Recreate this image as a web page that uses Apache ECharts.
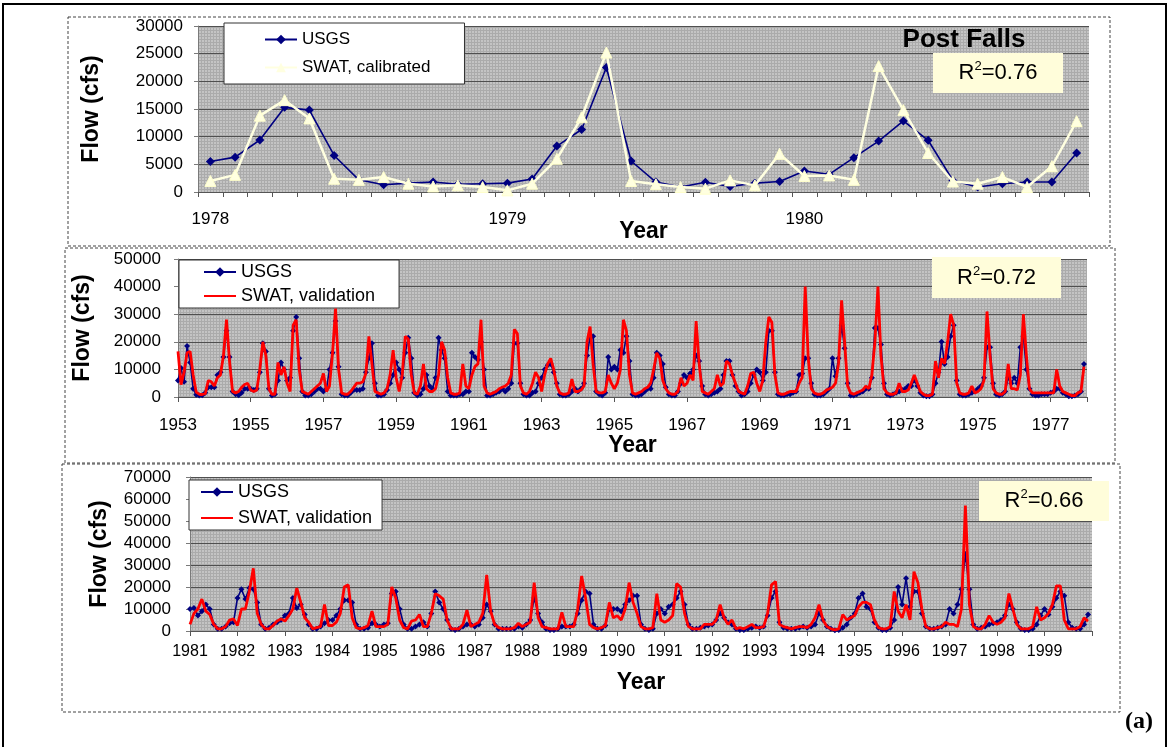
<!DOCTYPE html>
<html><head><meta charset="utf-8">
<script src="https://cdn.jsdelivr.net/npm/echarts@6/dist/echarts.min.js"></script>
<style>html,body{margin:0;padding:0;background:#fff}#c{width:1170px;height:747px}</style>
</head><body><div id="c"></div>
<script>
// ---------- DATA ----------
const topYears = [1978, 1979, 1980];
const monthNames = ['01','02','03','04','05','06','07','08','09','10','11','12'];
const topUSGS = [5500, 6300, 9400, 15300, 14800, 6600, 2200, 1300, 1600, 1800, 1400, 1500,
  1600, 2350, 8300, 11300, 22500, 5600, 1800, 900, 1750, 1000, 1600, 1900,
  3800, 3200, 6200, 9200, 12850, 9350, 2100, 900, 1500, 1800, 1800, 7050];
const topSWAT = [2000, 3100, 13800, 16600, 13300, 2400, 2200, 2700, 1500, 1000, 1200, 900,
  300, 1500, 6000, 13500, 25200, 2000, 1400, 900, 600, 2100, 1200, 6900,
  2900, 3000, 2200, 22750, 14800, 7050, 1900, 1500, 2700, 900, 4650, 12800];

const midStartYear = 1953;
const midUSGS = [
  6000, 10500, 5500, 18500, 12500, 3000, 800, 500, 600, 1500, 3500, 3500,
  3500, 8000, 9000, 14500, 24000, 14500, 2000, 1000, 600, 1500, 3000, 3000,
  3000, 2500, 3000, 9000, 19500, 16500, 3000, 500, 1000, 6000, 12500, 10000,
  6000, 7000, 24000, 29000, 14000, 2000, 500, 500, 1000, 2000, 3000, 3000,
  2000, 3000, 10000, 16000, 27500, 11000, 1000, 500, 500, 1500, 2500, 2500,
  2500, 3000, 9000, 14000, 19500, 5000, 500, 500, 1000, 2500, 5000, 8000,
  12500, 10000, 7000, 16000, 21500, 14000, 1500, 500, 1000, 3000, 8000, 4000,
  3000, 7000, 21500, 17000, 14000, 2000, 500, 500, 500, 1000, 1000, 2000,
  2000, 16000, 14500, 13500, 20000, 10000, 500, 500, 1000, 1500, 2000, 3000,
  2000, 3000, 5000, 19500, 19500, 5000, 1000, 500, 500, 1500, 2000, 5000,
  7000, 10000, 11500, 12000, 9000, 5000, 1000, 500, 500, 1000, 2000, 3000,
  2000, 3000, 5000, 15000, 22000, 22000, 2000, 1000, 500, 1500, 14500, 10000,
  11000, 10000, 17000, 16000, 22000, 13000, 1000, 500, 500, 1000, 2000, 3000,
  3000, 7000, 16000, 15000, 12000, 3500, 1000, 500, 500, 2000, 5000, 8000,
  7000, 8500, 10000, 15000, 13000, 4000, 1000, 500, 1000, 1500, 2000, 3000,
  8000, 13000, 13000, 8000, 4000, 2000, 500, 1000, 2000, 5000, 8000, 10000,
  9000, 6000, 9000, 24000, 24000, 9000, 1000, 500, 500, 1000, 1000, 1500,
  2000, 8000, 8500, 14000, 14000, 5000, 1000, 500, 500, 1000, 2000, 3000,
  14000, 7500, 14000, 26000, 17700, 5000, 500, 500, 1000, 1500, 2000, 3000,
  3000, 7000, 25000, 25000, 19000, 5000, 1000, 500, 1000, 1500, 2000, 2500,
  3000, 4000, 4000, 6000, 4000, 1500, 500, 300, 300, 1000, 5000, 9000,
  20000, 12000, 14500, 22000, 26000, 6000, 1000, 500, 500, 1000, 1500, 2000,
  3000, 4000, 7000, 18000, 18000, 5000, 1000, 500, 1000, 2000, 7000, 5000,
  7000, 5000, 18000, 22000, 10000, 3000, 1000, 500, 500, 1000, 1000, 1000,
  1500, 2000, 3000, 3000, 1500, 1000, 300, 300, 500, 1000, 2000, 12000];
const midSWAT = [
  16500, 4500, 9000, 16000, 16500, 8000, 1800, 1000, 900, 1200, 6000, 5500,
  4000, 7000, 8000, 15000, 28000, 13000, 2000, 1500, 2000, 3500, 4500, 5000,
  2500, 2000, 2500, 10000, 20000, 15000, 3000, 1000, 1000, 12500, 8000, 11000,
  5000, 2000, 26000, 28000, 10000, 2000, 1500, 1000, 2000, 3000, 4000, 5000,
  8500, 2000, 4000, 16000, 32000, 10000, 1500, 1000, 1000, 2000, 3500, 5000,
  5000, 5500, 8500, 22000, 12000, 2000, 1500, 1000, 1500, 3000, 8000, 17000,
  7000, 2000, 8000, 22000, 21000, 8000, 1500, 1000, 4000, 12000, 3000, 2000,
  2000, 3000, 8000, 20000, 17000, 7000, 1500, 1000, 1000, 1500, 12000, 4000,
  3000, 8000, 11000, 12000, 28000, 4000, 1500, 1000, 1500, 2000, 3000, 3500,
  4000, 5000, 8000, 24500, 23000, 4000, 1500, 1000, 2000, 5000, 9000, 7000,
  2000, 8000, 12000, 14000, 10000, 4000, 1500, 1000, 1000, 1500, 6500, 2000,
  2000, 2500, 4000, 20000, 25500, 12000, 2000, 1500, 1500, 2000, 8000, 5000,
  3000, 5000, 10000, 28000, 24000, 8000, 1500, 1000, 1500, 2000, 3000, 3500,
  5000, 10000, 16000, 14000, 6000, 3000, 1500, 1000, 1000, 2000, 7000, 4000,
  5000, 8000, 6000, 27500, 12000, 2000, 1500, 1000, 2000, 3000, 8000, 4000,
  5000, 13000, 12000, 8000, 5000, 2000, 1500, 1000, 4000, 8500, 9000, 5000,
  2000, 6000, 20000, 29000, 27000, 8000, 1500, 1000, 1000, 1500, 2000, 2000,
  2000, 5000, 7000, 40000, 14000, 3000, 1500, 1000, 1000, 1500, 2500, 3000,
  3500, 5000, 12000, 35000, 20000, 4000, 1500, 1000, 1500, 2000, 2500, 4000,
  3000, 8000, 20000, 40000, 15000, 3000, 1500, 1000, 1000, 1500, 5000, 2000,
  2000, 2500, 5000, 8000, 5000, 2000, 1000, 500, 500, 1000, 13000, 7000,
  14000, 12000, 20000, 30000, 26000, 5000, 1500, 1000, 1000, 1500, 4000, 1500,
  2000, 3000, 6000, 31000, 15000, 3000, 1500, 1000, 1000, 2000, 12000, 3000,
  3000, 2500, 8000, 30000, 15000, 3000, 1500, 1500, 1500, 1500, 1500, 1500,
  1500, 1500, 10000, 4000, 2000, 1500, 1000, 500, 500, 1500, 2000, 11000];

const botStartYear = 1981;
const botUSGS = [
  10000, 10500, 7000, 9000, 12000, 10000, 3000, 1000, 1000, 2000, 3500, 4000,
  15000, 19000, 14500, 19500, 19000, 13000, 3000, 1000, 1500, 3000, 4000, 5000,
  7000, 8000, 15000, 10500, 12000, 7500, 3000, 1000, 1000, 2000, 3500, 5000,
  5000, 7000, 10000, 14000, 14000, 13000, 3000, 1000, 1000, 1500, 3500, 3000,
  2000, 3000, 3500, 17000, 18000, 10000, 3000, 1000, 1000, 2000, 3000, 4000,
  2000, 8000, 18000, 13000, 10000, 5000, 1000, 500, 1000, 2000, 3000, 3000,
  2000, 3000, 6000, 12000, 9000, 3000, 1000, 1000, 1000, 1000, 1000, 2000,
  1500, 3000, 5000, 15000, 8000, 4000, 1000, 500, 500, 1000, 2000, 2000,
  2000, 3000, 8000, 14000, 18000, 17000, 3000, 1000, 1000, 2500, 10000, 10000,
  10000, 9000, 12000, 14000, 16000, 16000, 3000, 1000, 500, 1000, 8000, 10000,
  8000, 11000, 12000, 15000, 18000, 12000, 3000, 1000, 1000, 1500, 2000, 2500,
  3000, 5000, 8000, 6000, 4000, 3000, 1000, 500, 500, 1000, 1500, 2000,
  1500, 2000, 7000, 15000, 18000, 4000, 1500, 1000, 1000, 1000, 1500, 2000,
  1500, 2000, 3000, 8000, 5000, 2000, 1000, 300, 500, 1500, 3000, 6000,
  8000, 15000, 17000, 11000, 10000, 4000, 1500, 500, 500, 1500, 5000, 20000,
  12000, 24000, 11000, 18000, 18000, 8000, 2000, 1000, 1000, 1500, 2000, 3000,
  10000, 8000, 12000, 19000, 35000, 19000, 3000, 1000, 1500, 2000, 3000, 3500,
  4000, 5000, 7000, 12000, 10000, 4000, 1000, 500, 500, 1000, 3000, 7000,
  10000, 7500, 11000, 15000, 18000, 16000, 4000, 1500, 1000, 1000, 3000, 7500];
const botSWAT = [
  3000, 8000, 10000, 14500, 9000, 7500, 3000, 1000, 1000, 2000, 5000, 5500,
  2500, 10000, 10000, 18000, 28500, 8000, 3000, 1000, 1000, 2500, 4500, 5500,
  4500, 7000, 10000, 19500, 13000, 6000, 4000, 1000, 1500, 2000, 12000, 2500,
  2500, 4000, 8000, 20000, 21000, 6000, 1500, 1000, 1500, 2500, 9000, 2000,
  2000, 2000, 3000, 20000, 15000, 5000, 1500, 1000, 4500, 5000, 7500, 2000,
  2000, 8000, 17000, 16000, 14500, 5000, 1000, 1000, 1000, 3000, 9500, 2000,
  3000, 4000, 8000, 25500, 9000, 3000, 1500, 1000, 1000, 1000, 1500, 3500,
  2000, 3000, 4000, 22000, 6000, 2000, 1500, 1000, 1000, 1000, 8500, 2000,
  2000, 2000, 10000, 25000, 15000, 3000, 1500, 1000, 1500, 2500, 13000, 6000,
  7000, 5000, 10000, 22000, 13000, 8000, 2000, 1000, 1000, 1500, 17000, 5000,
  4000, 5000, 7000, 21500, 20000, 8000, 2000, 1000, 1000, 1000, 3000, 3000,
  3000, 5000, 12000, 6000, 3000, 5000, 1000, 1500, 1000, 2000, 3000, 1500,
  1500, 2000, 8000, 21000, 22500, 3000, 2000, 1500, 1000, 1500, 2000, 2000,
  1500, 3000, 6000, 12000, 5000, 2000, 1000, 500, 1000, 7500, 5000, 6000,
  7000, 11000, 13000, 13000, 12000, 5000, 1500, 1000, 1000, 2000, 18000, 9000,
  6000, 12000, 5000, 27000, 22000, 10000, 2000, 1000, 1000, 1500, 2000, 4000,
  3000, 3000, 2000, 10000, 57000, 12000, 2000, 1000, 1000, 3000, 7000, 4000,
  3000, 4000, 6000, 17000, 10000, 3000, 1000, 1000, 1000, 2000, 11000, 5000,
  6000, 8000, 12000, 20500, 20500, 5000, 1000, 1000, 1000, 2000, 6000, 4500];

const r2Values = ['0.76', '0.72', '0.66'];
const stationName = 'Post Falls';

// ---------- BUILD ----------
const FONT = "'Liberation Sans', Arial, sans-serif";
const topCats = topYears.flatMap(y => monthNames.map(m => y + '-' + m));
const toXY = (arr, start) => arr.map((v, i) => [start + i / 12, v]);

const tile = document.createElement('canvas');
tile.width = 3; tile.height = 3;
(function () {
  const g = tile.getContext('2d');
  g.fillStyle = '#C4C4C4'; g.fillRect(0, 0, 3, 3);
  g.fillStyle = '#ABABAB'; g.fillRect(0, 0, 3, 1); g.fillRect(0, 0, 1, 3);
})();
const bgPattern = { image: tile, repeat: 'repeat' };

const grids = [
  { left: 198, top: 26, width: 891, height: 166 },
  { left: 178, top: 259, width: 909, height: 138 },
  { left: 190, top: 477, width: 902, height: 154 }
].map(g => Object.assign(g, { show: true, backgroundColor: bgPattern, borderWidth: 0, containLabel: false }));

const nameStyle = { fontFamily: FONT, fontWeight: 'bold', fontSize: 23, color: '#000' };
const labelStyle = (fs) => ({ fontFamily: FONT, fontSize: fs, color: '#000' });

function yAxis(gi, max, step, gap, margin, fs) {
  return {
    type: 'value', gridIndex: gi, min: 0, max: max, interval: step,
    name: 'Flow (cfs)', nameLocation: 'middle', nameGap: gap, nameMoveOverlap: false, nameTextStyle: nameStyle,
    axisLine: { show: true, lineStyle: { color: '#7a7a7a', width: 1 } },
    axisTick: { show: true, length: 4, lineStyle: { color: '#7a7a7a' } },
    axisLabel: Object.assign(labelStyle(fs), { margin: margin, formatter: v => String(v) }),
    splitLine: { show: true, lineStyle: { color: '#4f4f4f', width: 1 } }
  };
}

const xAxes = [
  {
    type: 'category', gridIndex: 0, data: topCats, boundaryGap: true,
    name: 'Year', nameLocation: 'middle', nameGap: 28, nameMoveOverlap: false, nameTextStyle: nameStyle,
    axisLine: { lineStyle: { color: '#555', width: 1 } },
    axisTick: { show: true, interval: 0, length: 5, lineStyle: { color: '#555' } },
    axisLabel: Object.assign(labelStyle(17), {
      margin: 19, interval: (i) => i % 12 === 0, formatter: v => v.split('-')[0]
    }),
    splitLine: { show: false }
  },
  {
    type: 'value', gridIndex: 1, min: midStartYear, max: midStartYear + midUSGS.length / 12, interval: 2,
    name: 'Year', nameLocation: 'middle', nameGap: 37, nameMoveOverlap: false, nameTextStyle: nameStyle,
    axisLine: { onZero: false, lineStyle: { color: '#555', width: 1 } },
    axisTick: { show: true, length: 5, lineStyle: { color: '#555' } },
    axisLabel: Object.assign(labelStyle(17), {
      margin: 20, formatter: v => (v === midStartYear + midUSGS.length / 12 ? '' : String(v))
    }),
    splitLine: { show: false }
  },
  {
    type: 'value', gridIndex: 2, min: botStartYear, max: botStartYear + botUSGS.length / 12, interval: 1,
    name: 'Year', nameLocation: 'middle', nameGap: 40, nameMoveOverlap: false, nameTextStyle: nameStyle,
    axisLine: { onZero: false, lineStyle: { color: '#555', width: 1 } },
    axisTick: { show: true, length: 5, lineStyle: { color: '#555' } },
    axisLabel: Object.assign(labelStyle(16), {
      margin: 13, formatter: v => (v === botStartYear + botUSGS.length / 12 ? '' : String(v))
    }),
    splitLine: { show: false }
  }
];

const yAxes = [
  yAxis(0, 30000, 5000, 95, 15, 17),
  yAxis(1, 50000, 10000, 84, 17, 17),
  yAxis(2, 70000, 10000, 79, 19, 17)
];

const usgsStyle = (size) => ({
  name: 'USGS', type: 'line', symbol: 'diamond', symbolSize: size,
  lineStyle: { color: '#000080', width: 1.6 }, itemStyle: { color: '#000080' }, z: 3
});
const series = [
  Object.assign(usgsStyle(9), { xAxisIndex: 0, yAxisIndex: 0, data: topUSGS }),
  {
    name: 'SWAT, calibrated', type: 'line', xAxisIndex: 0, yAxisIndex: 0, data: topSWAT,
    symbol: 'triangle', symbolSize: 11,
    lineStyle: { color: '#FFFFE0', width: 2.5 }, itemStyle: { color: '#FFFFE0', borderColor: '#FFFFCC' }, z: 4
  },
  Object.assign(usgsStyle(6), { xAxisIndex: 1, yAxisIndex: 1, data: toXY(midUSGS, midStartYear) }),
  {
    name: 'SWAT, validation', type: 'line', xAxisIndex: 1, yAxisIndex: 1, data: toXY(midSWAT, midStartYear),
    symbol: 'none', lineStyle: { color: '#FF0000', width: 2.8 }, itemStyle: { color: '#FF0000' }, z: 4
  },
  Object.assign(usgsStyle(6), { xAxisIndex: 2, yAxisIndex: 2, data: toXY(botUSGS, botStartYear) }),
  {
    name: 'SWAT, validation', type: 'line', xAxisIndex: 2, yAxisIndex: 2, data: toXY(botSWAT, botStartYear),
    symbol: 'none', lineStyle: { color: '#FF0000', width: 2.8 }, itemStyle: { color: '#FF0000' }, z: 4
  }
];

const legendBase = (extra) => Object.assign({
  orient: 'vertical', backgroundColor: '#fff', borderColor: '#333', borderWidth: 1,
  itemWidth: 32, itemHeight: 12, selectedMode: false,
  textStyle: { fontFamily: FONT, color: '#000' }
}, extra);
const swatValItem = { name: 'SWAT, validation', itemStyle: { opacity: 0 } };
const legends = [
  legendBase({ data: ['USGS', 'SWAT, calibrated'], left: 224, top: 23, itemGap: 11,
    padding: [8, 34, 8, 40], textStyle: { fontFamily: FONT, color: '#000', fontSize: 17 } }),
  legendBase({ data: ['USGS', swatValItem], left: 179, top: 260, itemGap: 6,
    padding: [3, 24, 3, 24], textStyle: { fontFamily: FONT, color: '#000', fontSize: 18 } }),
  legendBase({ data: ['USGS', swatValItem], left: 189, top: 480, itemGap: 8,
    padding: [3, 10, 3, 11], textStyle: { fontFamily: FONT, color: '#000', fontSize: 18 } })
];

function r2Box(x, y, w, h, val) {
  return [
    { type: 'rect', shape: { x: x, y: y, width: w, height: h }, style: { fill: '#FFFDDA', stroke: null }, z: 50 },
    { type: 'text', x: x + w / 2, y: y + h / 2, z: 51,
      style: { text: '{a|R}{s|2}{a|=' + val + '}', align: 'center', verticalAlign: 'middle',
        textAlign: 'center', textVerticalAlign: 'middle',
        rich: { a: { fontFamily: FONT, fontSize: 22, fill: '#000', lineHeight: 26 },
                s: { fontFamily: FONT, fontSize: 13, fill: '#000', lineHeight: 26, verticalAlign: 'top' } } } }
  ];
}
const dashed = (x, y, w, h) => ({ type: 'rect', shape: { x: x, y: y, width: w, height: h }, z: 0,
  style: { fill: null, stroke: '#444', lineWidth: 1, lineDash: [3, 2] } });

const graphic = [
  { type: 'rect', shape: { x: 3, y: 4, width: 1163, height: 780 }, z: 0, style: { fill: null, stroke: '#000', lineWidth: 2 } },
  dashed(68, 17, 1042, 229),
  dashed(65, 248, 1050, 215),
  dashed(62, 464, 1058, 248),
  { type: 'text', x: 964, y: 40, z: 52, style: { text: stationName, fontFamily: FONT, fontSize: 26, fontWeight: 'bold', fill: '#000',
    align: 'center', verticalAlign: 'middle', textAlign: 'center', textVerticalAlign: 'middle' } },
  ...r2Box(933, 53, 130, 40, r2Values[0]),
  ...r2Box(932, 257, 129, 41, r2Values[1]),
  ...r2Box(979, 481, 130, 40, r2Values[2]),
  { type: 'text', x: 1153, y: 722, z: 52, style: { text: '(a)', fontFamily: "'Liberation Serif', 'Times New Roman', serif",
    fontSize: 24, fontWeight: 'bold', fill: '#000', align: 'right', verticalAlign: 'middle', textAlign: 'right', textVerticalAlign: 'middle' } }
];

const chart = echarts.init(document.getElementById('c'), null, { renderer: 'canvas' });
chart.setOption({
  animation: false,
  backgroundColor: '#fff',
  grid: grids, xAxis: xAxes, yAxis: yAxes, series: series, legend: legends, graphic: graphic
});
</script>
</body></html>
